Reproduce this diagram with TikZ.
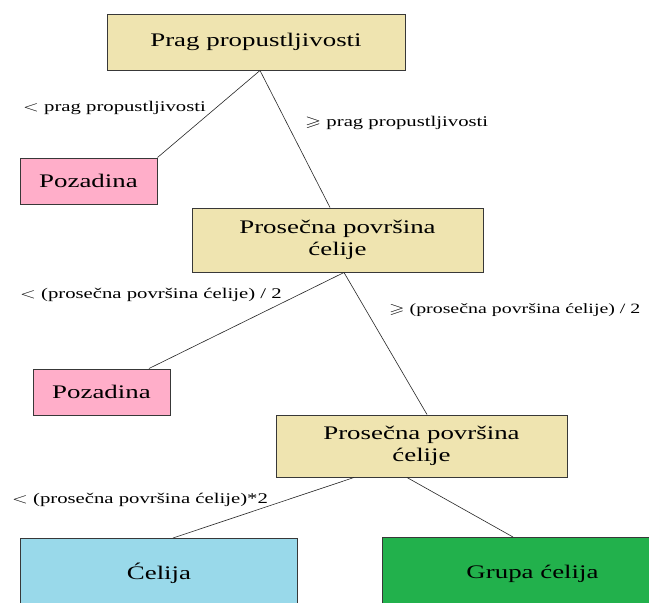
\RequirePackage{fix-cm}
\documentclass[tikz,border=0pt]{standalone}
\usepackage{amssymb}
\usepackage{fontspec}
\setmainfont{Liberation Serif}
\usepackage{graphicx}
\definecolor{boxtan}{HTML}{EFE4B0}
\definecolor{boxpink}{HTML}{FFAEC9}
\definecolor{boxblue}{HTML}{99D9EA}
\definecolor{boxgreen}{HTML}{22B14C}
\definecolor{edgegray}{HTML}{383838}
\newcommand\sx[1]{\scalebox{1.4}[1]{#1}}
\begin{document}
\begin{tikzpicture}[x=1pt,y=-1pt,
  nbox/.style={draw=edgegray, line width=1pt, inner sep=0pt,
    font=\fontsize{19.2}{22}\selectfont, align=center},
  conn/.style={draw=black!85, line width=0.6pt},
  lbl/.style={anchor=west, inner sep=0pt, font=\fontsize{14.8}{17}\selectfont}]
\useasboundingbox (0,0) rectangle (649,603);
\clip (0,0) rectangle (649,603);
\fill[white] (0,0) rectangle (649,603);

\node[nbox, fill=boxtan, minimum width=298pt, minimum height=56pt] (b1) at (256,42) {\sx{Prag propustljivosti}};
\node[nbox, fill=boxpink, minimum width=137pt, minimum height=46pt] (p1) at (88.5,181) {\sx{Pozadina}};
\node[nbox, fill=boxtan, minimum width=291pt, minimum height=64pt] (b2) at (337.5,240) {\sx{\begin{tabular}{@{}c@{}}Prosečna površina\\ćelije\end{tabular}}};
\node[nbox, fill=boxpink, minimum width=137pt, minimum height=46pt] (p2) at (101.5,392) {\sx{Pozadina}};
\node[nbox, fill=boxtan, minimum width=291pt, minimum height=62pt] (b3) at (421.5,446) {\sx{\begin{tabular}{@{}c@{}}Prosečna površina\\ćelije\end{tabular}}};
\node[nbox, fill=boxblue, minimum width=277pt, minimum height=70pt, anchor=north west] (c) at (20,538) {\sx{Ćelija}};
\node[nbox, fill=boxgreen, minimum width=300pt, minimum height=72pt, anchor=north west] (g) at (382,537) {\sx{Grupa ćelija}};

\draw[conn] ([xshift=4pt]b1.south) -- (p1.north east);
\draw[conn] ([xshift=4pt]b1.south) -- ([xshift=-7.5pt]b2.north);
\draw[conn] ([xshift=6.5pt]b2.south) -- ([xshift=47.5pt]p2.north);
\draw[conn] ([xshift=6.5pt]b2.south) -- ([xshift=5.5pt]b3.north);
\draw[conn] ([xshift=-67.5pt]b3.south) -- ([xshift=153pt]c.north west);
\draw[conn] ([xshift=-14.5pt]b3.south) -- ([xshift=131pt]g.north west);

\node[lbl] (l1) at (23,108) {\sx{$<$ prag propustljivosti}};
\node[lbl] (l2) at (305,123) {\sx{$\geqslant$ prag propustljivosti}};
\node[lbl] (l3) at (20,295) {\sx{$<$ (prosečna površina ćelije) / 2}};
\node[lbl, font=\fontsize{14.2}{17}\selectfont] (l4) at (389,310) {\sx{$\geqslant$ (prosečna površina ćelije) / 2}};
\node[lbl] (l5) at (12,500) {\sx{$<$ (prosečna površina ćelije)*2}};
\end{tikzpicture}
\end{document}
